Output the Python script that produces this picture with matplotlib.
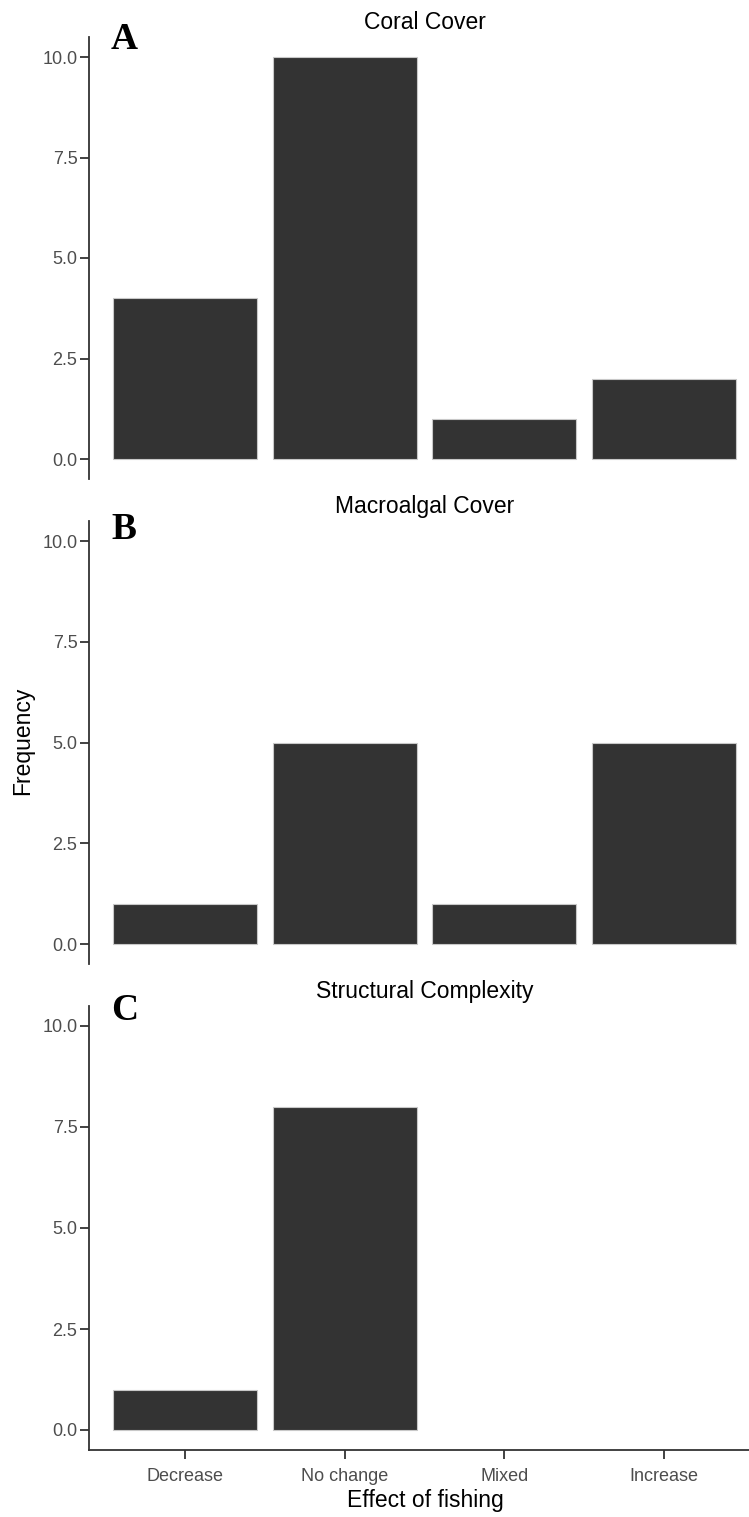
import matplotlib
matplotlib.use("Agg")
import matplotlib.pyplot as plt

categories = ["Decrease", "No change", "Mixed", "Increase"]
coral = [4, 10, 1, 2]
macroalgal = [1, 5, 1, 5]
complexity = [1, 8, 0, 0]
titles = ["Coral Cover", "Macroalgal Cover", "Structural Complexity"]
letters = ["A", "B", "C"]
yticks = [0.0, 2.5, 5.0, 7.5, 10.0]

W, H = 749, 1517
fig = plt.figure(figsize=(W / 100, H / 100), dpi=100)
plt.rcParams['font.family'] = ['Liberation Sans', 'DejaVu Sans']

# pixel boxes (left, top, right, bottom)
boxes = [(89.2, 36.9, 759.8, 479.1), (89.2, 520.9, 759.8, 964.2), (89.2, 1005.8, 759.8, 1450.2)]
letter_base = [49, 539, 1020]
data = [coral, macroalgal, complexity]
txtcol = "#4d4d4d"
for i, (box, vals) in enumerate(zip(boxes, data)):
    l, t, r, b = box
    ax = fig.add_axes([l / W, 1 - b / H, (r - l) / W, (b - t) / H])
    x = list(range(len(categories)))
    xs = [xi for xi, v in zip(x, vals) if v > 0]
    vs = [v for v in vals if v > 0]
    ax.bar(xs, vs, width=0.9, color="#333333", edgecolor="#c8c8c8", linewidth=0.8)
    ax.set_xlim(-0.6, 3.6)
    ax.set_ylim(-0.5, 10.5)
    ax.set_yticks(yticks)
    ax.set_yticklabels([f"{v:.1f}" for v in yticks], fontsize=13, color=txtcol)
    for s in ["top", "right"]:
        ax.spines[s].set_visible(False)
    ax.spines["left"].set_color("#333333")
    ax.spines["left"].set_linewidth(1.3)
    ax.tick_params(axis="y", length=6.5, width=1.3, color="#333333", pad=2)
    if i < 2:
        ax.spines["bottom"].set_visible(False)
        ax.set_xticks([])
    else:
        ax.spines["bottom"].set_color("#333333")
        ax.spines["bottom"].set_linewidth(1.3)
        ax.set_xticks(x)
        ax.set_xticklabels(categories, fontsize=13, color=txtcol)
        ax.tick_params(axis="x", length=6.5, width=1.3, color="#333333", pad=6)
    fig.text(425 / W, 1 - (t - 8) / H, titles[i], ha="center", va="baseline", fontsize=16.5, color="black")
    fig.text(111 / W, 1 - letter_base[i] / H, letters[i], ha="left", va="baseline", fontsize=27,
             fontweight="bold", family=["Liberation Serif", "DejaVu Serif"], color="black")

fig.text(425 / W, 1 - 1500 / H, "Effect of fishing", ha="center", va="center", fontsize=16.5, color="black")
fig.text(23 / W, 1 - 741 / H, "Frequency", rotation=90, ha="center", va="center", fontsize=16.5, color="black")

fig.savefig("out.png", dpi=100)
